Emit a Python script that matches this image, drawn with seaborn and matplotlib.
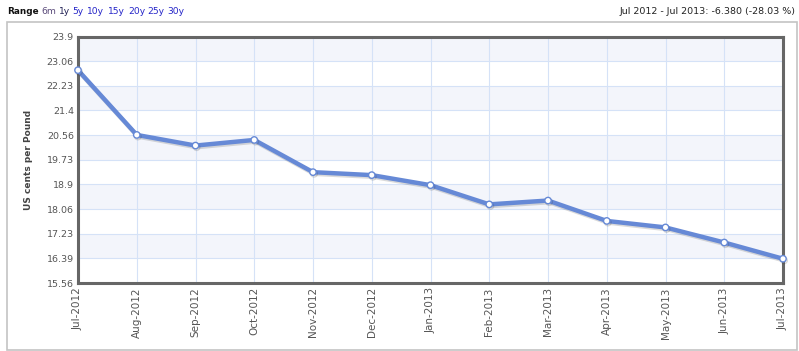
import matplotlib
matplotlib.use("Agg")
import matplotlib.pyplot as plt
import matplotlib.patheffects as pe
from matplotlib.patches import Rectangle
import seaborn as sns
import pandas as pd

months = ["Jul-2012", "Aug-2012", "Sep-2012", "Oct-2012", "Nov-2012", "Dec-2012",
          "Jan-2013", "Feb-2013", "Mar-2013", "Apr-2013", "May-2013", "Jun-2013", "Jul-2013"]
prices = [22.76, 20.57, 20.21, 20.40, 19.31, 19.21, 18.87, 18.22, 18.35, 17.66, 17.44, 16.93, 16.38]
y_ticks = [15.56, 16.39, 17.23, 18.06, 18.9, 19.73, 20.56, 21.4, 22.23, 23.06, 23.9]
range_links = ["6m", "1y", "5y", "10y", "15y", "20y", "25y", "30y"]
title_right = "Jul 2012 - Jul 2013: -6.380 (-28.03 %)"
y_label = "US cents per Pound"

df = pd.DataFrame({"month": months, "price": prices})

sns.set_style("white")
plt.rcParams["font.family"] = ["DejaVu Sans"]

W, H = 799, 351
fig = plt.figure(figsize=(W / 100, H / 100), dpi=100)
ax = fig.add_axes([78 / W, 1 - 283 / H, (783 - 78) / W, (283 - 36.5) / H])

# alternating bands
for i in range(len(y_ticks) - 1):
    if (len(y_ticks) - 2 - i) % 2 == 0:
        ax.axhspan(y_ticks[i], y_ticks[i + 1], color="#f3f5fb", zorder=0, lw=0)

line_color = "#6689d6"
sns.lineplot(data=df, x="month", y="price", ax=ax, color=line_color, lw=3.2,
             marker="o", markersize=4.6, markerfacecolor="white",
             markeredgecolor=line_color, markeredgewidth=1.0, sort=False,
             path_effects=[pe.SimpleLineShadow(offset=(0.8, -1.2), shadow_color="#333333", alpha=0.18),
                           pe.Normal()], zorder=5, clip_on=False)

ax.set_xlim(0, len(months) - 1)
ax.set_ylim(y_ticks[0], y_ticks[-1])
ax.set_yticks(y_ticks)
ax.set_yticklabels([f"{v:g}" for v in y_ticks])
ax.set_xticks(range(len(months)))
ax.set_xticklabels(months, rotation=90)
ax.grid(True, color="#d5e2f7", lw=0.8, zorder=1)
ax.set_axisbelow(True)
ax.tick_params(axis="both", length=0, colors="#555555", pad=3)
ax.tick_params(axis="x", labelsize=7.5)
ax.tick_params(axis="y", labelsize=6.8)
for lab in ax.get_xticklabels() + ax.get_yticklabels():
    lab.set_color("#555555")
for s in ax.spines.values():
    s.set_color("#666666")
    s.set_linewidth(2.2)
    s.set_visible(True)
ax.set_xlabel("")
ax.set_ylabel(y_label, fontsize=6.5, fontweight="bold", color="#444444", labelpad=10)

# outer frame
fig.patches.append(Rectangle((7 / W, 1 - 350 / H), (797 - 7) / W, (350 - 22) / H,
                             transform=fig.transFigure, fill=False, ec="#c4c4c4", lw=1.2))

# header texts
fig.text(7 / W, 1 - 11 / H, "Range", fontsize=6.4, fontweight="bold", color="#111111",
         ha="left", va="center")
link_x = [41, 59, 72, 87, 108, 128, 147, 167]
link_colors = ["#5a4a7a", "#222255"] + ["#2525c8"] * 6
for lbl, x, c in zip(range_links, link_x, link_colors):
    fig.text(x / W, 1 - 11 / H, lbl, fontsize=6.6, color=c, ha="left", va="center")
fig.text(796 / W, 1 - 11 / H, title_right, fontsize=6.8, color="#222222", ha="right", va="center")

fig.savefig("out.png", dpi=100)
